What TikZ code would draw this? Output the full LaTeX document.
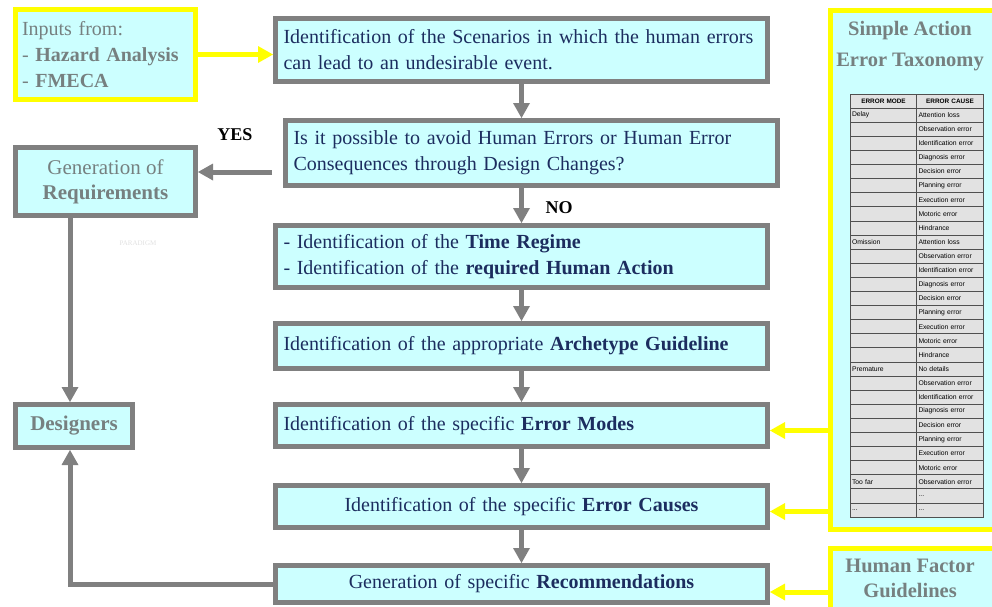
\documentclass[tikz,border=0pt]{standalone}
\usepackage{fontspec}
\setmainfont{Liberation Serif}
\newfontfamily\tablesans{Liberation Sans}
\usetikzlibrary{positioning,arrows.meta}

\definecolor{boxfill}{RGB}{204,255,255}
\definecolor{boxgray}{RGB}{128,128,128}
\definecolor{hiyellow}{RGB}{255,255,0}
\definecolor{navytext}{RGB}{28,45,95}
\definecolor{greytext}{RGB}{118,128,128}
\definecolor{cellgray}{RGB}{226,226,226}
\definecolor{celledge}{RGB}{80,80,80}
\newcommand{\tabdots}{...}

\begin{document}
\begin{tikzpicture}[x=1pt, y=-1pt,
    font=\fontsize{20}{26}\selectfont,
    stepbox/.style={rectangle, draw=boxgray, line width=5pt, fill=boxfill, text=navytext, text width=476pt, inner xsep=8pt, align=left},
    sidebox/.style={rectangle, draw=boxgray, line width=5pt, fill=boxfill, text=greytext, align=center, font=\fontsize{21}{25}\selectfont},
    feedbox/.style={rectangle, draw=hiyellow, line width=5pt, fill=boxfill, text=greytext},
    grayarrow/.style={draw=boxgray, line width=5pt, -{Triangle[length=15pt, width=17pt, line width=0pt]}},
    yellowarrow/.style={draw=hiyellow, line width=5pt, -{Triangle[length=15pt, width=17pt, line width=0pt]}},
    cell/.style={rectangle, draw=celledge, fill=cellgray, line width=0.7pt, minimum width=67pt, minimum height=14.1pt, text width=63pt, inner xsep=2pt, inner ysep=0pt, align=left, font=\tablesans\fontsize{6.8}{7}\selectfont, text=black}]
    \useasboundingbox (0,0) rectangle (992,606);

    % Inputs
    \node (inputs) [feedbox, minimum width=180pt, minimum height=90pt, text width=167pt, inner xsep=6.5pt, align=left] at (105.5,54.5) {Inputs from:\\- \textbf{Hazard Analysis}\\- \textbf{FMECA}};

    % Main column
    \node (scenario) [stepbox, minimum height=63pt] at (521.5,50) {Identification of the Scenarios in which the human errors\\can lead to an undesirable event.};
    \node (avoid) [stepbox, minimum height=65pt, below=34pt of scenario, xshift=10pt] {Is it possible to avoid Human Errors or Human Error\\Consequences through Design Changes?};
    \node (regime) [stepbox, minimum height=62pt, below=35pt of avoid, xshift=-10pt] {- Identification of the \textbf{Time Regime}\\- Identification of the \textbf{required Human Action}};
    \node (archetype) [stepbox, minimum height=45pt, below=31pt of regime] {Identification of the appropriate \textbf{Archetype Guideline}};
    \node (modes) [stepbox, minimum height=42pt, below=31pt of archetype] {Identification of the specific \textbf{Error Modes}};
    \node (causes) [stepbox, minimum height=42pt, below=34pt of modes, align=center] {Identification of the specific \textbf{Error Causes}};
    \node (recomm) [stepbox, minimum height=37pt, below=33pt of causes, align=center] {Generation of specific \textbf{Recommendations}};

    % Left side
    \node (genreq) [sidebox, minimum width=180pt, minimum height=68pt] at (105.5,181.5) {Generation of\\\textbf{Requirements}};
    \node (designers) [sidebox, minimum width=117pt, minimum height=43pt] at (74,426) {\textbf{Designers}};
    \node (watermark) [text=black!12, font=\fontsize{7}{8}\selectfont] at (138,243) {PARADIGM};
    \coordinate (leftrail) at (70,0);

    % Right side
    \node (taxonomy) [feedbox, minimum width=173pt, minimum height=519pt] at (917,270) {};
    \node (taxtitle) [text=greytext, font=\bfseries\fontsize{20.5}{31}\selectfont, align=center] at (910,46.5) {Simple Action\\Error Taxonomy};
    \node (hfg) [feedbox, minimum width=173pt, minimum height=91pt] at (917,594) {};
    \node (hfgtitle) [text=greytext, font=\bfseries\fontsize{20.5}{25}\selectfont, align=center] at (910,578.5) {Human Factor\\Guidelines};

    % Taxonomy table
    \node (modehead) [cell, align=center, font=\tablesans\bfseries\fontsize{6.4}{7}\selectfont] at (883.5,101) {ERROR MODE};
    \node (causehead) [cell, align=center, font=\tablesans\bfseries\fontsize{6.4}{7}\selectfont] at (950,101) {ERROR CAUSE};
    \foreach \mode/\cause [count=\i] in {Delay/Attention loss, /Observation error, /Identification error, /Diagnosis error, /Decision error, /Planning error, /Execution error, /Motoric error, /Hindrance,
        Omission/Attention loss, /Observation error, /Identification error, /Diagnosis error, /Decision error, /Planning error, /Execution error, /Motoric error, /Hindrance,
        Premature/No details, /Observation error, /Identification error, /Diagnosis error, /Decision error, /Planning error, /Execution error, /Motoric error,
        Too far/Observation error, /\tabdots, \tabdots/\tabdots} {
        \node (mode\i) [cell] at (883.5,{101+14.1*\i}) {\mode};
        \node (cause\i) [cell] at (950,{101+14.1*\i}) {\cause};
    }

    % Labels
    \node (yes) [font=\bfseries\fontsize{18}{20}\selectfont] at (235,135) {YES};
    \node (no) [font=\bfseries\fontsize{18}{20}\selectfont] at (559,208) {NO};

    % Arrows
    \draw [yellowarrow] (inputs.east) -- (inputs.east -| scenario.west);
    \draw [grayarrow] (scenario.south) -- (scenario.south |- avoid.north);
    \draw [grayarrow] (avoid.south -| regime.north) -- (regime.north);
    \draw [grayarrow] (regime) -- (archetype);
    \draw [grayarrow] (archetype) -- (modes);
    \draw [grayarrow] (modes) -- (causes);
    \draw [grayarrow] (causes) -- (recomm);

    \coordinate (yesstart) at ([xshift=-11pt, yshift=-19pt]avoid.west);
    \draw [grayarrow] (yesstart) -- (yesstart -| genreq.east);
    \draw [grayarrow] (genreq.south -| leftrail) -- (designers.north -| leftrail);
    \draw [grayarrow] (recomm.west) -| (designers.south -| leftrail);

    \coordinate (modesin) at ([yshift=-5pt]modes.east);
    \coordinate (causesin) at ([yshift=-5pt]causes.east);
    \coordinate (recommin) at ([yshift=-8pt]recomm.east);
    \draw [yellowarrow] (modesin -| taxonomy.west) -- (modesin);
    \draw [yellowarrow] (causesin -| taxonomy.west) -- (causesin);
    \draw [yellowarrow] (recommin -| hfg.west) -- (recommin);
\end{tikzpicture}
\end{document}
